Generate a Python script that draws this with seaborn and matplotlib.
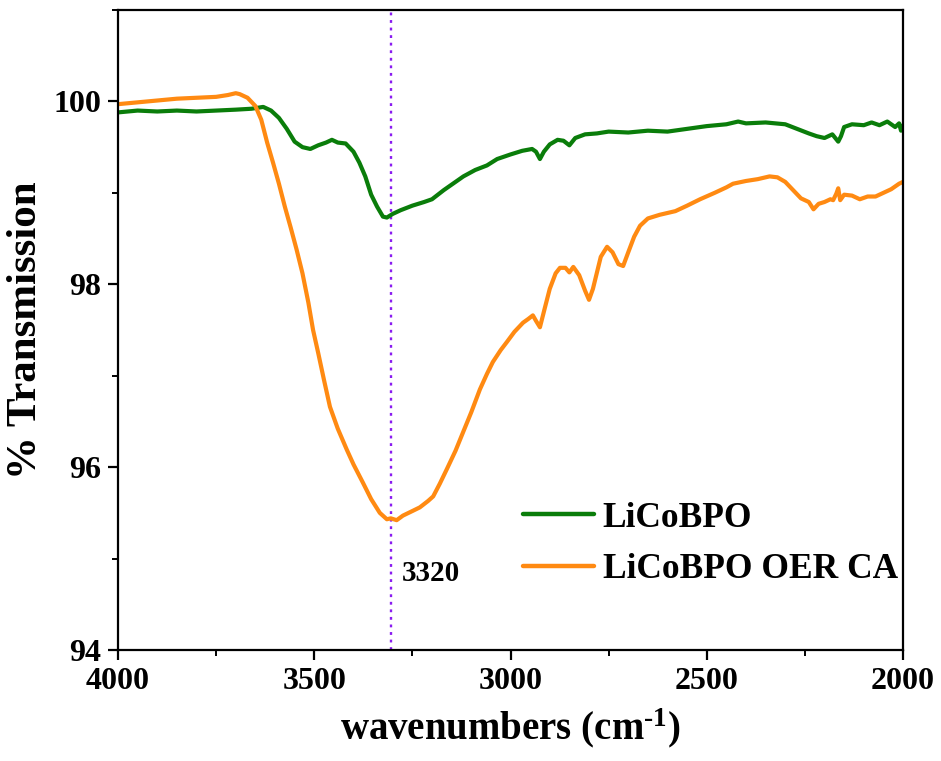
import numpy as np
import pandas as pd
import seaborn as sns
import matplotlib
matplotlib.use("Agg")
import matplotlib.pyplot as plt
from matplotlib.ticker import MultipleLocator

# ---------------- data ----------------
green_x = [4000, 3950, 3900, 3850, 3800, 3750, 3700, 3660, 3630, 3610, 3590, 3570, 3550, 3530,
           3510, 3490, 3470, 3455, 3440, 3420, 3400, 3385, 3370, 3355, 3340, 3325, 3315, 3300,
           3280, 3250, 3220, 3200, 3170, 3140, 3120, 3090, 3060, 3034, 3000, 2970, 2945, 2935,
           2925, 2915, 2900, 2880, 2865, 2850, 2835, 2810, 2780, 2750, 2700, 2650, 2600, 2550,
           2500, 2450, 2420, 2400, 2350, 2300, 2270, 2240, 2220, 2200, 2180, 2165, 2158, 2150,
           2130, 2100, 2080, 2060, 2040, 2020, 2010, 2005, 2000]
green_y = [99.88, 99.90, 99.89, 99.90, 99.89, 99.90, 99.91, 99.92, 99.94, 99.90, 99.82, 99.70,
           99.56, 99.50, 99.48, 99.52, 99.55, 99.58, 99.55, 99.54, 99.45, 99.33, 99.18, 98.98,
           98.85, 98.74, 98.73, 98.77, 98.81, 98.86, 98.90, 98.93, 99.03, 99.12, 99.18, 99.25,
           99.30, 99.37, 99.42, 99.46, 99.48, 99.45, 99.37, 99.45, 99.53, 99.58, 99.57, 99.52,
           99.60, 99.64, 99.65, 99.67, 99.66, 99.68, 99.67, 99.70, 99.73, 99.75, 99.78, 99.76,
           99.77, 99.75, 99.70, 99.65, 99.62, 99.60, 99.64, 99.56, 99.62, 99.72, 99.75, 99.74,
           99.77, 99.74, 99.78, 99.72, 99.76, 99.68, 99.74]

orange_x = [4000, 3950, 3900, 3850, 3800, 3750, 3720, 3700, 3690, 3670, 3650, 3635, 3620, 3605,
            3590, 3575, 3560, 3545, 3530, 3515, 3503, 3490, 3475, 3460, 3440, 3417, 3400, 3376,
            3355, 3333, 3315, 3305, 3290, 3274, 3250, 3231, 3210, 3197, 3180, 3162, 3140, 3121,
            3100, 3078, 3060, 3045, 3025, 3009, 2990, 2968, 2955, 2943, 2935, 2925, 2912, 2900,
            2885, 2874, 2860, 2850, 2840, 2825, 2810, 2800, 2790, 2770, 2754, 2740, 2725, 2713,
            2700, 2685, 2670, 2650, 2620, 2580, 2550, 2517, 2480, 2450, 2433, 2400, 2370, 2340,
            2320, 2300, 2280, 2260, 2240, 2228, 2215, 2200, 2185, 2178, 2170, 2165, 2160, 2150,
            2130, 2110, 2090, 2070, 2050, 2030, 2010, 2000]
orange_y = [99.97, 99.99, 100.01, 100.03, 100.04, 100.05, 100.07, 100.09, 100.08, 100.04, 99.95,
            99.80, 99.55, 99.33, 99.10, 98.85, 98.62, 98.38, 98.12, 97.80, 97.50, 97.25, 96.95,
            96.66, 96.42, 96.19, 96.03, 95.83, 95.65, 95.50, 95.43, 95.44, 95.42, 95.47, 95.52,
            95.56, 95.63, 95.68, 95.82, 95.98, 96.18, 96.38, 96.60, 96.85, 97.02, 97.15, 97.28,
            97.37, 97.48, 97.58, 97.62, 97.66, 97.60, 97.53, 97.75, 97.95, 98.12, 98.18, 98.18,
            98.13, 98.19, 98.10, 97.93, 97.83, 97.95, 98.30, 98.41, 98.35, 98.22, 98.20, 98.35,
            98.52, 98.64, 98.72, 98.76, 98.80, 98.86, 98.93, 99.00, 99.06, 99.10, 99.13, 99.15,
            99.18, 99.17, 99.12, 99.03, 98.94, 98.90, 98.82, 98.88, 98.90, 98.93, 98.92, 98.99,
            99.05, 98.92, 98.98, 98.97, 98.93, 98.96, 98.96, 99.00, 99.04, 99.10, 99.12]

series_names = ["LiCoBPO", "LiCoBPO OER CA"]
peak_position = 3305
peak_label = "3320"
x_ticks = [4000, 3500, 3000, 2500, 2000]
y_ticks = [94, 96, 98, 100]

# ---------------- build table ----------------
df = pd.concat([
    pd.DataFrame({"x": green_x, "y": green_y, "series": series_names[0]}),
    pd.DataFrame({"x": orange_x, "y": orange_y, "series": series_names[1]}),
], ignore_index=True)

sns.set_style("ticks")
plt.rcParams["font.family"] = ["Liberation Serif", "DejaVu Serif"]
plt.rcParams["font.weight"] = "bold"
plt.rcParams["mathtext.fontset"] = "custom"
plt.rcParams["mathtext.rm"] = "Liberation Serif:bold"
plt.rcParams["mathtext.bf"] = "Liberation Serif:bold"
plt.rcParams["mathtext.it"] = "Liberation Serif:bold"
for k in ["text.color", "axes.labelcolor", "xtick.color", "ytick.color", "axes.edgecolor"]:
    plt.rcParams[k] = "black"

fig = plt.figure(figsize=(9.41, 7.61), dpi=100)
ax = fig.add_axes([118 / 941, 111 / 761, 785 / 941, 640 / 761])

palette = {series_names[0]: "#0a7d0a", series_names[1]: "#ff8a12"}
sns.lineplot(data=df, x="x", y="y", hue="series", palette=palette, sort=False,
             linewidth=3.0, ax=ax, legend=True)

ax.axvline(peak_position, color="#8a1cf0", linestyle=(0, (1.2, 2.0)), linewidth=1.7, zorder=0)
ax.text(3276, 94.84, peak_label, fontsize=21, fontweight="bold", ha="left", va="center",
        color="black")

ax.set_xlim(4000, 2000)
ax.set_ylim(94, 101)
ax.set_xticks(x_ticks)
ax.set_yticks(y_ticks)
ax.xaxis.set_minor_locator(MultipleLocator(250))
ax.yaxis.set_minor_locator(MultipleLocator(1))
ax.tick_params(axis="both", which="major", direction="out", length=7, width=1.6,
               labelsize=23, pad=5, top=False, right=False, colors="black")
ax.tick_params(axis="both", which="minor", direction="out", length=4.5, width=1.4,
               top=False, right=False, colors="black")
for lab in ax.get_xticklabels() + ax.get_yticklabels():
    lab.set_fontweight("bold")
for s in ax.spines.values():
    s.set_visible(True)
    s.set_linewidth(1.6)
    s.set_color("black")

ax.set_xlabel(r"wavenumbers (cm$^{\text{-1}}$)", fontsize=28, fontweight="bold", labelpad=8)
ax.set_ylabel("% Transmission", fontsize=31, fontweight="bold", labelpad=6)

leg = ax.legend(loc="upper left", bbox_to_anchor=(0.516, 0.232), frameon=False,
                fontsize=25.5, handlelength=2.0, handletextpad=0.25, labelspacing=0.52,
                borderaxespad=0, borderpad=0)
for t in leg.get_texts():
    t.set_fontweight("bold")
    t.set_color("black")
for h in leg.get_lines():
    h.set_linewidth(3.2)

fig.savefig("out.png", dpi=100)
